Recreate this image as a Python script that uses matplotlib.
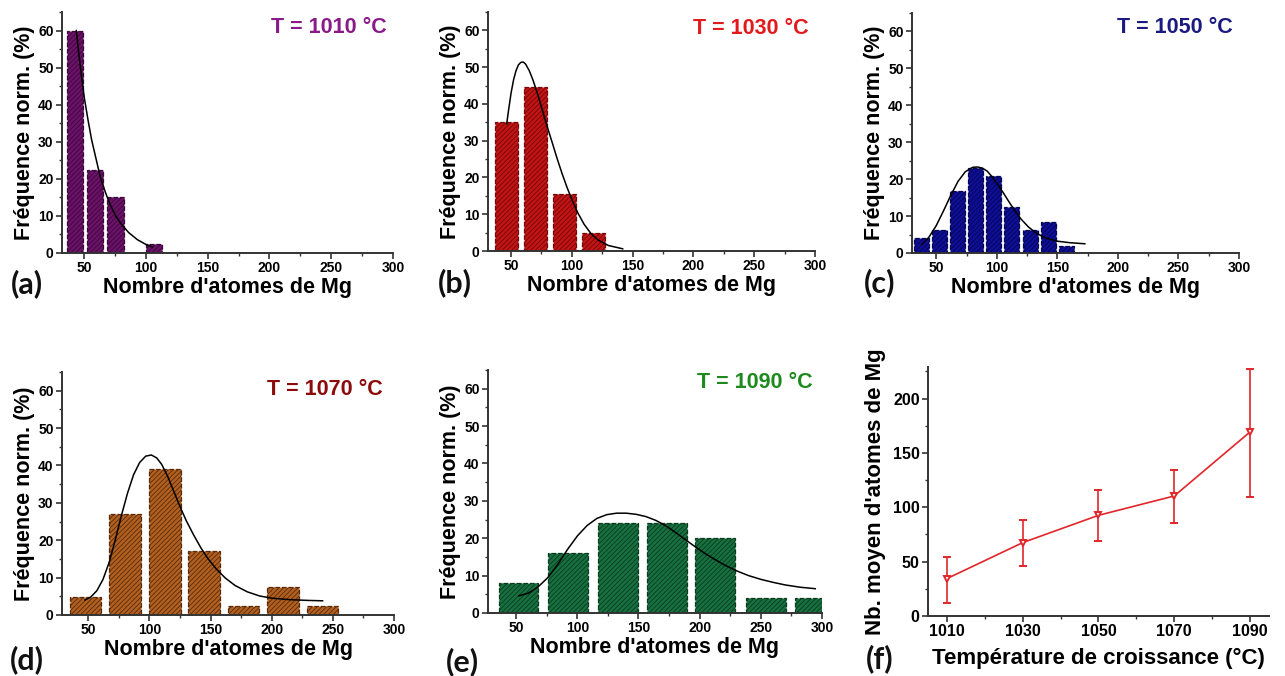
import matplotlib
matplotlib.use("Agg")
import matplotlib.pyplot as plt
from matplotlib.ticker import MultipleLocator

plt.rcParams['font.family'] = ['Liberation Sans', 'DejaVu Sans']
plt.rcParams['font.weight'] = 'bold'
plt.rcParams['hatch.linewidth'] = 0.6

# ---------------- data ----------------
temps_label = ["T = 1010 °C", "T = 1030 °C", "T = 1050 °C", "T = 1070 °C", "T = 1090 °C"]

a_centers = [42.5, 59, 75.3, 106.5]
a_heights = [60, 22.5, 15, 2.5]
a_fit_x = [43.6, 45.5, 47.5, 50, 53, 56, 59.5, 63, 67, 71, 75.5, 80, 86, 93, 100, 105.3]
a_fit_y = [60, 54, 48.5, 42, 36, 30.5, 25.5, 20.5, 16.5, 13, 10, 7.8, 5.5, 3.6, 2.3, 1.6]

b_centers = [46.5, 70, 94, 118]
b_heights = [35, 44.5, 15.5, 4.8]
b_fit_x = [46.4, 48, 50, 52, 54, 56, 58, 60, 62, 65, 68, 72, 76, 80, 84, 88, 92, 96,
           100, 105, 110, 116, 122, 130, 141.8]
b_fit_y = [34.6, 38.5, 43, 46.5, 49, 50.6, 51.3, 51.4, 50.8, 49, 46.5, 42.5, 38, 33.5,
           29.3, 25, 21, 17.3, 14, 10.3, 7.3, 4.6, 2.9, 1.5, 0.6]

c_centers = [37.6, 52.6, 67.5, 82.7, 97.5, 112.5, 127.6, 142.5, 157.4]
c_heights = [4.1, 6.2, 16.7, 23, 20.8, 12.5, 6.2, 8.3, 2.0]
c_fit_x = [38.1, 44, 50, 56, 62, 68, 74, 80, 84, 88, 92, 96, 100, 105, 110, 115, 120,
           126, 132, 140, 150, 160, 172.7]
c_fit_y = [2.3, 4.3, 7.4, 11.4, 15.6, 19.4, 22, 23.2, 23.3, 23, 22.2, 20.7, 18.9, 16.5,
           13.9, 11.4, 9.2, 7.1, 5.5, 4.1, 3.2, 2.8, 2.5]

d_centers = [47.7, 80.3, 112.5, 144.8, 177, 209.5, 241.5]
d_heights = [4.9, 26.9, 39, 17.1, 2.4, 7.4, 2.4]
d_fit_x = [47.3, 52, 57, 62, 67, 72, 77, 82, 87, 92, 97, 101.6, 106, 110, 115, 120, 125,
           130, 136, 142, 148, 155, 162, 170, 180, 190, 200, 215, 230, 241.6]
d_fit_y = [4.0, 4.8, 6.5, 9.5, 14, 20, 26.5, 32.5, 37.5, 40.8, 42.5, 42.8, 42, 40.3, 37,
           33, 29, 25.3, 21.5, 18, 15, 12.2, 9.9, 7.9, 6.2, 5.1, 4.5, 4.1, 3.9, 3.8]

e_centers = [52, 92.5, 133, 173.4, 212.8, 254, 294.5]
e_heights = [8, 16, 24, 24, 20, 4, 4]
e_fit_x = [52.2, 60, 68, 76, 84, 92, 100, 108, 116, 124, 132, 140, 148, 156, 164, 172,
           180, 188, 196, 204, 212, 220, 230, 240, 250, 260, 270, 282, 294.5]
e_fit_y = [4.6, 5.3, 7, 9.5, 13, 17, 20.6, 23.4, 25.3, 26.3, 26.7, 26.7, 26.4, 25.8, 24.8,
           23.4, 21.6, 19.7, 17.8, 16, 14.4, 12.9, 11.3, 10, 9, 8.2, 7.5, 6.9, 6.5]

f_temps = [1010, 1030, 1050, 1070, 1090]
f_mean = [34.4, 67.5, 92.6, 110.4, 169.3]
f_err_low = [22.7, 21.8, 23.6, 24.8, 59.8]
f_err_high = [20.2, 20.8, 23.0, 24.3, 58.3]

panel_letters = ["(a)", "(b)", "(c)", "(d)", "(e)", "(f)"]

# ---------------- style ----------------
W, H = 1285, 676
fig = plt.figure(figsize=(W / 100, H / 100), dpi=100)


def ax_at(left, top, right, bottom):
    return fig.add_axes([left / W, 1 - bottom / H, (right - left) / W, (bottom - top) / H])


spine_col = "#333333"


def style_axes(ax, labelsize):
    for s in ["top", "right"]:
        ax.spines[s].set_visible(False)
    for s in ["left", "bottom"]:
        ax.spines[s].set_linewidth(1.4)
        ax.spines[s].set_color(spine_col)
    ax.tick_params(which="major", direction="out", length=4, width=1.2, color=spine_col,
                   labelsize=labelsize, pad=2)
    ax.tick_params(which="minor", direction="out", length=2.5, width=1.0, color=spine_col)
    for lab in ax.get_xticklabels() + ax.get_yticklabels():
        lab.set_fontweight("bold")


hist_specs = [
    (a_centers, a_heights, 13, a_fit_x, a_fit_y, "#6B1268", "#3A073A", "#8A1A8A",
     (62, 12, 393, 253), 32, (0.98, 0.935)),
    (b_centers, b_heights, 19, b_fit_x, b_fit_y, "#C21414", "#720808", "#E31A1C",
     (488, 12, 815, 251), 31, (0.979, 0.93)),
    (c_centers, c_heights, 12.4, c_fit_x, c_fit_y, "#0E0E98", "#06064E", "#1A1A80",
     (912, 13, 1239, 253), 30, (0.982, 0.94)),
    (d_centers, d_heights, 26, d_fit_x, d_fit_y, "#B2601F", "#57290A", "#8B0A0A",
     (62, 372, 394, 615), 28.5, (0.967, 0.926)),
    (e_centers, e_heights, 32.5, e_fit_x, e_fit_y, "#177040", "#0A3A1E", "#1E8A1E",
     (488, 370, 822, 613), 27, (0.973, 0.948)),
]

label_pos = [(27, 284), (455, 283), (880, 283), (27, 660), (462, 662), (880, 659)]

for i, (cen, hei, wid, fx, fy, face, edge, tcol, box, xmin, tpos) in enumerate(hist_specs):
    ax = ax_at(*box)
    ax.bar(cen, hei, width=wid, color=face, edgecolor=edge, hatch="///////",
           linestyle="--", linewidth=0.9, zorder=2)
    ax.plot(fx, fy, color="black", linewidth=1.1, zorder=3)
    ax.set_xlim(xmin, 300)
    ax.set_ylim(0, 65)
    ax.xaxis.set_major_locator(MultipleLocator(50))
    ax.xaxis.set_minor_locator(MultipleLocator(25))
    ax.yaxis.set_major_locator(MultipleLocator(10))
    ax.yaxis.set_minor_locator(MultipleLocator(5))
    style_axes(ax, 10)
    ax.set_xlabel("Nombre d'atomes de Mg", fontsize=15.5, fontweight="bold", labelpad=1)
    ax.set_ylabel("Fréquence norm. (%)", fontsize=15.5, fontweight="bold", labelpad=2)
    ax.text(tpos[0], tpos[1], temps_label[i], transform=ax.transAxes, ha="right", va="center",
            fontsize=15.5, fontweight="bold", color=tcol)

# panel f
axf = ax_at(928, 367, 1269, 616)
axf.errorbar(f_temps, f_mean, yerr=[f_err_low, f_err_high], color="#E0262A", linewidth=1.2,
             elinewidth=1.2, capsize=3, capthick=1.2, marker="v", markersize=5,
             markerfacecolor="white", markeredgecolor="#E0262A", markeredgewidth=1.4, zorder=3)
axf.set_xlim(1005, 1095)
axf.set_ylim(0, 229)
axf.set_xticks(f_temps)
axf.xaxis.set_minor_locator(MultipleLocator(10))
axf.yaxis.set_major_locator(MultipleLocator(50))
axf.yaxis.set_minor_locator(MultipleLocator(25))
style_axes(axf, 11.5)
axf.set_xlabel("Température de croissance (°C)", fontsize=16, fontweight="bold", labelpad=6)
axf.set_ylabel("Nb. moyen d'atomes de Mg", fontsize=16, fontweight="bold", labelpad=5)

for (px, py), lab in zip(label_pos, panel_letters):
    fig.text(px / W, 1 - py / H, lab, ha="center", va="center", fontsize=22,
             fontweight="bold", family=["Lato", "DejaVu Sans"], color="#111111")

fig.savefig("out.png", dpi=100)
